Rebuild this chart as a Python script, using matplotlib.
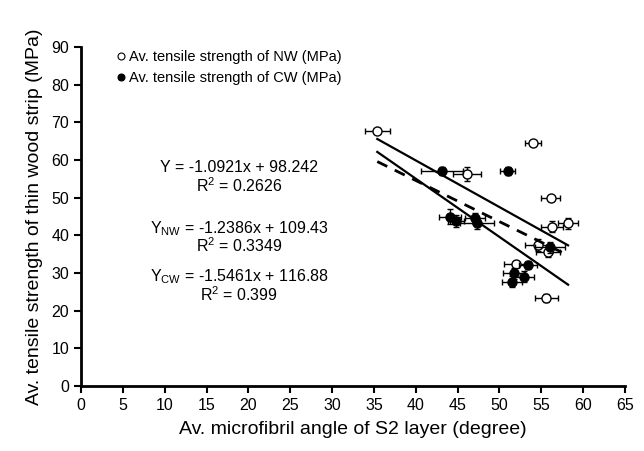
import numpy as np
import matplotlib
matplotlib.use('Agg')
import matplotlib.pyplot as plt
from matplotlib.lines import Line2D

plt.rcParams['font.family'] = ['Liberation Sans', 'DejaVu Sans']
plt.rcParams['mathtext.default'] = 'regular'

# NW (open circles)
nw_x = [35.4, 54.0, 46.1, 56.1, 56.3, 58.2, 54.6, 55.8, 52.0, 55.6]
nw_y = [67.8, 64.4, 56.2, 49.8, 42.3, 43.2, 37.4, 35.7, 32.3, 23.4]
nw_xerr = [1.5, 1.0, 1.7, 1.1, 1.3, 1.2, 1.5, 1.4, 1.4, 1.4]
nw_yerr = [0.5, 0.5, 1.9, 0.5, 1.5, 1.5, 1.5, 1.5, 0.5, 1.0]

# CW (filled circles)
cw_x = [43.1, 51.0, 44.1, 44.8, 47.1, 47.3, 56.0, 53.4, 51.7, 52.9, 51.5]
cw_y = [57.1, 57.1, 44.9, 43.8, 44.5, 43.2, 36.8, 32.1, 29.9, 29.0, 27.7]
cw_xerr = [2.5, 0.9, 1.3, 1.0, 1.2, 2.0, 1.8, 1.1, 1.3, 1.2, 1.2]
cw_yerr = [1.0, 1.0, 2.0, 1.5, 1.5, 1.5, 1.5, 1.0, 1.5, 1.5, 1.5]

# regression lines (slope, intercept)
fit_all = (-1.0921, 98.242)
fit_nw = (-1.2386, 109.43)
fit_cw = (-1.5461, 116.88)

fig = plt.figure(figsize=(6.44, 4.51), dpi=100)
ax = fig.add_axes([0.1258, 0.1441, 0.8447, 0.7517])

ekw = dict(ecolor='black', elinewidth=1, capsize=2, capthick=1, linestyle='none')
ax.errorbar(nw_x, nw_y, xerr=nw_xerr, yerr=nw_yerr, fmt='o', mfc='white', mec='black',
            ms=6.5, mew=1, zorder=3, **ekw)
ax.errorbar(cw_x, cw_y, xerr=cw_xerr, yerr=cw_yerr, fmt='o', mfc='black', mec='black',
            ms=6.5, mew=1, zorder=4, **ekw)

all_x = nw_x + cw_x
xs = np.array([min(all_x), max(all_x)])
ax.plot(xs, fit_nw[0] * xs + fit_nw[1], color='black', lw=1.6, zorder=5)
ax.plot(xs, fit_cw[0] * xs + fit_cw[1], color='black', lw=1.6, zorder=5)
ax.plot(xs, fit_all[0] * xs + fit_all[1], color='black', lw=2, ls=(0, (4, 3)), zorder=5)

ax.set_xlim(0, 65)
ax.set_ylim(0, 90)
ax.set_xticks(np.arange(0, 66, 5))
ax.set_yticks(np.arange(0, 91, 10))
for s in ['top', 'right']:
    ax.spines[s].set_visible(False)
for s in ['left', 'bottom']:
    ax.spines[s].set_linewidth(2)
ax.tick_params(direction='out', length=5, width=1.5, labelsize=11.5, colors='black')

ax.set_xlabel('Av. microfibril angle of S2 layer (degree)', fontsize=14, labelpad=6)
ax.set_ylabel('Av. tensile strength of thin wood strip (MPa)', fontsize=14, labelpad=6)

# equations
eq_kw = dict(ha='center', va='center', fontsize=11.5)
ax.text(18.9, 58.0, 'Y = -1.0921x + 98.242', **eq_kw)
ax.text(18.9, 53.3, 'R$^2$ = 0.2626', **eq_kw)
ax.text(18.9, 41.9, 'Y$_{NW}$ = -1.2386x + 109.43', **eq_kw)
ax.text(18.9, 37.2, 'R$^2$ = 0.3349', **eq_kw)
ax.text(18.9, 28.9, 'Y$_{CW}$ = -1.5461x + 116.88', **eq_kw)
ax.text(18.9, 24.2, 'R$^2$ = 0.399', **eq_kw)

handles = [Line2D([], [], marker='o', ls='none', mfc='white', mec='black', ms=5, mew=0.8),
           Line2D([], [], marker='o', ls='none', mfc='black', mec='black', ms=5, mew=0.8)]
labels = ['Av. tensile strength of NW (MPa)', 'Av. tensile strength of CW (MPa)']
ax.legend(handles, labels, loc='upper left', bbox_to_anchor=(0.042, 1.03), frameon=False,
          fontsize=10.5, handlelength=0.6, handletextpad=0.25, labelspacing=0.5)

fig.savefig('out.png', dpi=100)
